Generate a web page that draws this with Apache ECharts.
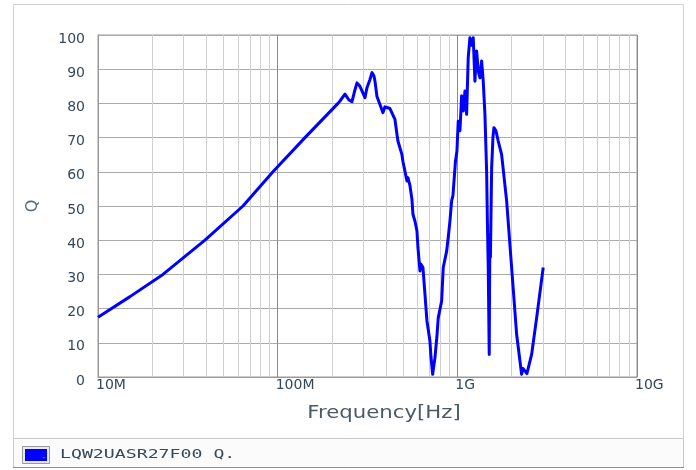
<!DOCTYPE html>
<html>
<head>
<meta charset="utf-8">
<script src="https://cdn.jsdelivr.net/npm/echarts@6/dist/echarts.min.js"></script>
<style>html,body{margin:0;padding:0;background:#fff}#c{width:696px;height:470px}</style>
</head>
<body>
<div id="c"></div>
<script>
// ---- data (frequency in MHz, Q) ----
const seriesName = 'LQW2UASR27F00 Q.';
const freqMHz = [10, 15.07, 22.99, 39.39, 64.12, 94.14, 141.9, 216.6, 222.2, 236.9,
  249.4, 259.2, 269.4, 276.4, 287.1, 294.5, 306.1, 314.1, 326.4, 334.9,
  343.6, 348.0, 357.0, 371.0, 385.5, 395.5, 405.8, 421.7, 432.6, 449.6,
  461.2, 467.2, 479.3, 491.7, 498.1, 510.9, 524.2, 531.0, 544.7, 558.9,
  566.1, 580.8, 596.0, 603.7, 619.4, 627.3, 643.6, 660.3, 677.4, 703.9,
  713.0, 728.7, 750.6, 770.1, 783.0, 817.8, 834.7, 871.9, 886.5, 909.5,
  929.6, 945.2, 969.7, 975.9, 994.9, 1011.6, 1034.0, 1056.6, 1078.5, 1102.3,
  1126.5, 1149.8, 1175.1, 1198.1, 1226.1, 1253.0, 1280.6, 1307.1, 1336.0, 1365.3,
  1393.6, 1424.3, 1455.8, 1470.6, 1485.9, 1504.8, 1510.7, 1518.4, 1528.2, 1552.0,
  1578.0, 1598.5, 1639.9, 1689.0, 1764.2, 1881.2, 2005.6, 2138.0, 2279.3, 2317.9,
  2378.0, 2439.6, 2480.9, 2591.2, 2762.5, 3006.1];
const qValues = [17.5, 23.5, 30, 40, 50, 60, 70, 80, 80.7, 82.7,
  81, 80.5, 84, 86, 85, 84.6, 81.7, 84.6, 87, 89,
  88, 86.5, 82, 79.7, 77.3, 79, 78.8, 78.5, 79, 75.3,
  71, 69, 67, 65, 63, 63, 57.3, 58.3, 56, 52,
  47.6, 45.6, 42.7, 37.8, 31, 33, 32, 24.2, 16.4, 10.5,
  6, 0.8, 5.6, 12, 17.3, 22.2, 32, 36.8, 40, 45.6,
  51.5, 53, 53.4, 63, 66, 74.8, 72, 82.2, 77.8, 83.6,
  76.8, 93.4, 99.2, 97, 99.2, 86.5, 95.3, 89.5, 87.5, 92.4,
  86.5, 76.8, 60, 45, 32, 6.6, 25, 41.7, 35, 61,
  70, 72.9, 72, 69, 65, 51.5, 32, 12.5, 0.8, 2.5,
  2.7, 1, 0.8, 6.6, 17.3, 32];
const xTickLabels = ['10M', '100M', '1G', '10G'];
const minorGridHz = [2e7, 3e7, 4e7, 5e7, 6e7, 7e7, 8e7, 9e7,
  2e8, 3e8, 4e8, 5e8, 6e8, 7e8, 8e8, 9e8,
  2e9, 3e9, 4e9, 5e9, 6e9, 7e9, 8e9, 9e9];
const xTitle = 'Frequency[Hz]';
const yTitle = 'Q';

const points = freqMHz.map((f, i) => [f * 1e6, qValues[i]]);
const txtColor = '#34495a';
const font = 'DejaVu Sans';

const chart = echarts.init(document.getElementById('c'), null, {renderer: 'canvas'});
chart.setOption({
  animation: false,
  backgroundColor: '#ffffff',
  grid: {left: 98, right: 59, top: 35, bottom: 93, show: true, borderColor: '#999', borderWidth: 1, backgroundColor: 'transparent'},
  xAxis: {
    type: 'log', logBase: 10, min: 1e7, max: 1e10,
    axisLine: {show: true, lineStyle: {color: '#999'}},
    axisTick: {show: false},
    splitLine: {show: true, lineStyle: {color: '#8a8a8a', width: 1}},
    axisLabel: {
      color: txtColor, fontFamily: font, fontSize: 14, align: 'left', margin: 1,
      padding: [0, 0, 0, -2],
      formatter: v => xTickLabels[Math.round(Math.log10(v)) - 7] || ''
    }
  },
  yAxis: {
    type: 'value', min: 0, max: 100, interval: 10,
    name: yTitle, nameLocation: 'middle', nameGap: 57, nameRotate: 90,
    nameTextStyle: {color: '#5a6a75', fontFamily: font, fontSize: 16},
    axisLine: {show: true, lineStyle: {color: '#999'}},
    axisTick: {show: false},
    splitLine: {show: true, lineStyle: {color: '#ababab', width: 1}},
    axisLabel: {color: txtColor, fontFamily: font, fontSize: 14, margin: 13, verticalAlign: 'top', padding: [-3, 0, 0, 0]}
  },
  series: [
    {
      type: 'line', name: 'grid', data: [], z: 1, silent: true,
      markLine: {
        silent: true, symbol: ['none', 'none'], animation: false,
        label: {show: false},
        lineStyle: {color: '#cfcfcf', type: 'solid', width: 1},
        data: minorGridHz.map(v => ({xAxis: v}))
      }
    },
    {
      type: 'line', name: seriesName, data: points, z: 5,
      showSymbol: false, symbol: 'none', smooth: false,
      lineStyle: {color: '#0000ff', width: 3, join: 'round'},
      itemStyle: {color: '#0000ff'}
    }
  ],
  graphic: [
    {type: 'rect', z: 0, shape: {x: 13.5, y: 4.5, width: 670, height: 434}, style: {fill: 'none', stroke: '#d0d0d0', lineWidth: 1}},
    {type: 'rect', z: 0, shape: {x: 13.5, y: 438.5, width: 670, height: 29}, style: {fill: '#fbfbfb', stroke: '#c8c8c8', lineWidth: 1}},
    {type: 'line', z: 1, shape: {x1: 13, y1: 467.5, x2: 684, y2: 467.5}, style: {stroke: '#8f8f8f', lineWidth: 1}},
    {type: 'rect', z: 2, shape: {x: 22.5, y: 446.5, width: 27, height: 17}, style: {fill: '#e8e8e8', stroke: '#9a9a9a', lineWidth: 1}},
    {type: 'rect', z: 3, shape: {x: 25, y: 449, width: 22, height: 12}, style: {fill: '#0000ff'}},
    {type: 'polygon', z: 4, shape: {points: [[42, 457], [46, 457], [44, 459]]}, style: {fill: '#555'}},
    {type: 'text', z: 3, x: 60, y: 455, scaleX: 1.4, style: {text: seriesName, fill: txtColor, font: '13px "DejaVu Sans Mono"', verticalAlign: 'middle', align: 'left'}},
    {type: 'text', z: 3, x: 384, y: 414, scaleX: 1.25, style: {text: xTitle, fill: '#4a5a66', font: '17px "DejaVu Sans"', verticalAlign: 'middle', align: 'center'}}
  ]
});
</script>
</body>
</html>
